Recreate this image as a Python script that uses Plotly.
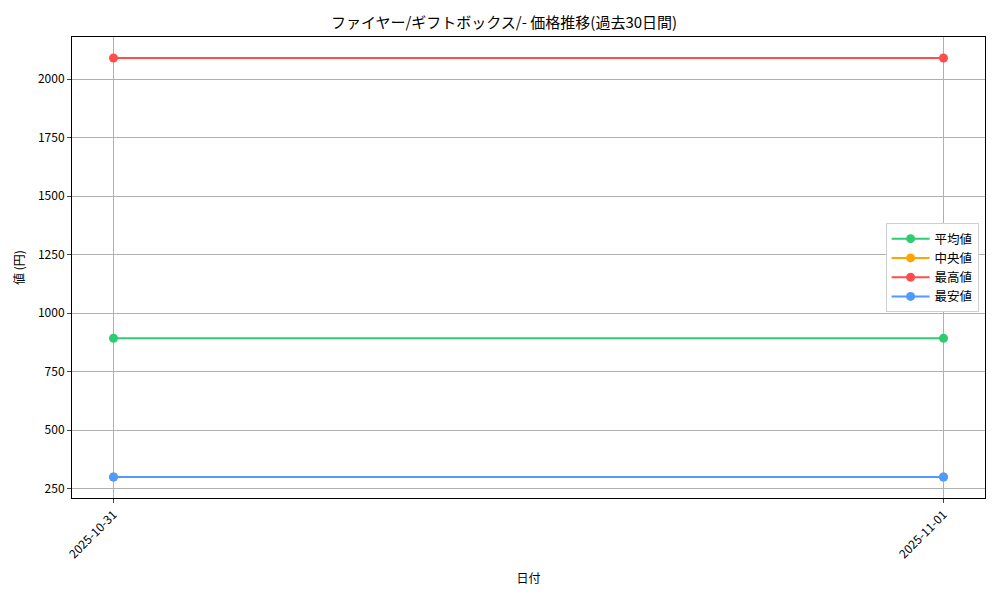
import plotly.graph_objects as go

# データ
dates = ["2025-10-31", "2025-11-01"]
avg_price = [893, 893]
median_price = [300, 300]
max_price = [2090, 2090]
min_price = [300, 300]

series = [
    ("平均値", avg_price, "#2ecc71"),
    ("中央値", median_price, "#ffa500"),
    ("最高値", max_price, "#ff4d4d"),
    ("最安値", min_price, "#4d9bff"),
]

font_jp = "Noto Sans CJK JP, DejaVu Sans"

fig = go.Figure()
for name, vals, color in series:
    fig.add_trace(go.Scatter(
        x=dates, y=vals, name=name, mode="lines+markers",
        line=dict(color=color, width=2),
        marker=dict(color=color, size=9),
    ))

# ページの余白(8px)ぶん小さくする
fig.update_layout(
    width=992, height=592,
    paper_bgcolor="white", plot_bgcolor="white",
    font=dict(family=font_jp, size=12, color="black"),
    title=dict(text="ファイヤー/ギフトボックス/- 価格推移(過去30日間)",
               x=0.5, xanchor="center", y=0.975, yanchor="middle",
               font=dict(size=15)),
    margin=dict(l=64, r=15, t=29, b=102),
    legend=dict(x=0.993, xanchor="right", y=0.5, yanchor="middle",
                bgcolor="white", bordercolor="#d0d0d0", borderwidth=1,
                itemwidth=38, font=dict(size=12.5)),
)
fig.update_xaxes(
    type="category", range=[-0.05, 1.05], automargin=False,
    showgrid=True, gridcolor="#b0b0b0", gridwidth=1,
    showline=True, linecolor="black", linewidth=1, mirror=True,
    ticks="outside", ticklen=4, tickangle=-45,
    title=dict(text="日付", font=dict(size=12), standoff=14),
)
fig.update_yaxes(
    range=[210.5, 2179.5], automargin=False,
    tickvals=[250, 500, 750, 1000, 1250, 1500, 1750, 2000],
    showgrid=True, gridcolor="#b0b0b0", gridwidth=1,
    showline=True, linecolor="black", linewidth=1, mirror=True,
    ticks="outside", ticklen=4, zeroline=False,
    title=dict(text="値 (円)", font=dict(size=12), standoff=10),
)

fig.write_html("out.html")
